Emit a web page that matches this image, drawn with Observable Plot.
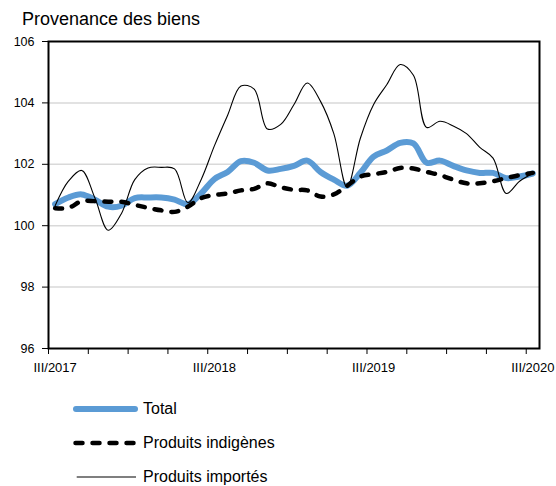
<!DOCTYPE html>
<html><head><meta charset="utf-8">
<script src="https://cdn.jsdelivr.net/npm/d3@7"></script>
<script src="https://cdn.jsdelivr.net/npm/@observablehq/plot@0.6"></script>
<style>
body{margin:0;background:#fff;font-family:"Liberation Sans",Arial,sans-serif;color:#000;}
#wrap{position:relative;width:556px;height:486px;overflow:hidden;background:#fff;}
#title{position:absolute;left:22px;top:10px;font-size:18px;line-height:18px;white-space:nowrap;}
#chart{position:absolute;left:0;top:0;}
#legend{position:absolute;left:72px;top:392px;}
.row{display:flex;align-items:center;height:34px;font-size:16px;white-space:nowrap;}
.row svg{width:68px;height:12px;margin-right:3px;display:block;}
</style></head>
<body>
<div id="wrap">
  <div id="chart"></div>
  <div id="title">Provenance des biens</div>
  <div id="legend"></div>
</div>
<script>
const months = ["III/2017","IV/2017","V/2017","VI/2017","VII/2017","VIII/2017","IX/2017","X/2017","XI/2017","XII/2017",
  "I/2018","II/2018","III/2018","IV/2018","V/2018","VI/2018","VII/2018","VIII/2018","IX/2018","X/2018","XI/2018","XII/2018",
  "I/2019","II/2019","III/2019","IV/2019","V/2019","VI/2019","VII/2019","VIII/2019","IX/2019","X/2019","XI/2019","XII/2019",
  "I/2020","II/2020","III/2020"];
const total = [100.70,100.92,101.02,100.85,100.62,100.65,100.90,100.92,100.92,100.85,
  100.70,101.05,101.52,101.75,102.10,102.05,101.80,101.85,101.95,102.12,101.75,101.50,
  101.30,101.72,102.25,102.45,102.70,102.68,102.05,102.12,101.95,101.80,101.72,101.72,
  101.55,101.60,101.70];
const indigenes = [100.57,100.58,100.80,100.80,100.78,100.78,100.68,100.58,100.50,100.45,
  100.62,100.90,101.00,101.05,101.15,101.20,101.38,101.25,101.17,101.15,100.95,101.02,
  101.30,101.60,101.68,101.75,101.88,101.86,101.75,101.65,101.50,101.38,101.38,101.45,
  101.55,101.65,101.72];
const importes = [100.65,101.45,101.80,100.90,99.85,100.40,101.50,101.88,101.90,101.85,
  100.75,101.50,102.60,103.60,104.55,104.45,103.15,103.30,103.95,104.65,104.05,103.00,
  101.25,102.85,103.95,104.60,105.25,104.90,103.20,103.40,103.25,103.00,102.55,102.20,
  101.05,101.45,101.70];
const tickLabels = ["III/2017","III/2018","III/2019","III/2020"];
const yTicks = [96,98,100,102,104,106];
const seriesNames = ["Total","Produits indigènes","Produits importés"];

const rows = months.map((m, i) => ({x: i + 0.5, month: m, total: total[i], indigenes: indigenes[i], importes: importes[i]}));
const boundaries = d3.range(0, months.length, 3);
const labelPos = tickLabels.map(l => months.indexOf(l) + 0.5);

const chart = Plot.plot({
  width: 556, height: 380,
  marginLeft: 48, marginRight: 17, marginTop: 41, marginBottom: 32,
  style: {fontFamily: "Liberation Sans, Arial, sans-serif", fontSize: "12px", color: "#000", background: "transparent"},
  x: {domain: [0, months.length]},
  y: {domain: [96, 106]},
  marks: [
    Plot.gridY({ticks: yTicks.slice(1, -1), stroke: "#d9d9d9", strokeOpacity: 1, strokeWidth: 1.5}),
    Plot.axisY({ticks: yTicks, tickSize: 6, tickPadding: 8, fontSize: 12.5, label: null, stroke: "#000"}),
    Plot.axisX({ticks: boundaries, tickSize: 6, tickFormat: () => "", label: null, stroke: "#000"}),
    Plot.axisX({ticks: labelPos, tickSize: 0, tickPadding: 14, fontSize: 13, label: null,
      tickFormat: d => tickLabels[labelPos.indexOf(d)]}),
    Plot.lineY(rows, {x: "x", y: "total", stroke: "#5b9bd5", strokeWidth: 6, curve: "catmull-rom"}),
    Plot.lineY(rows, {x: "x", y: "indigenes", stroke: "#000", strokeWidth: 4.5, strokeDasharray: "7,10", strokeLinecap: "round", curve: "catmull-rom"}),
    Plot.lineY(rows, {x: "x", y: "importes", stroke: "#000", strokeWidth: 1.1, curve: "catmull-rom"}),
    Plot.frame({stroke: "#000", strokeWidth: 2})
  ]
});
document.getElementById("chart").appendChild(chart);

const swatches = [
  '<line x1="4" y1="6" x2="63" y2="6" stroke="#5b9bd5" stroke-width="6" stroke-linecap="round"/>',
  '<line x1="3.5" y1="6" x2="63" y2="6" stroke="#000" stroke-width="4.5" stroke-dasharray="7,10" stroke-linecap="round"/>',
  '<line x1="4.7" y1="6" x2="64" y2="6" stroke="#000" stroke-width="1.1"/>'
];
const legend = document.getElementById("legend");
seriesNames.forEach((name, i) => {
  const row = document.createElement("div");
  row.className = "row";
  row.innerHTML = `<svg viewBox="0 0 68 12">${swatches[i]}</svg><span>${name}</span>`;
  legend.appendChild(row);
});
</script>
</body></html>
